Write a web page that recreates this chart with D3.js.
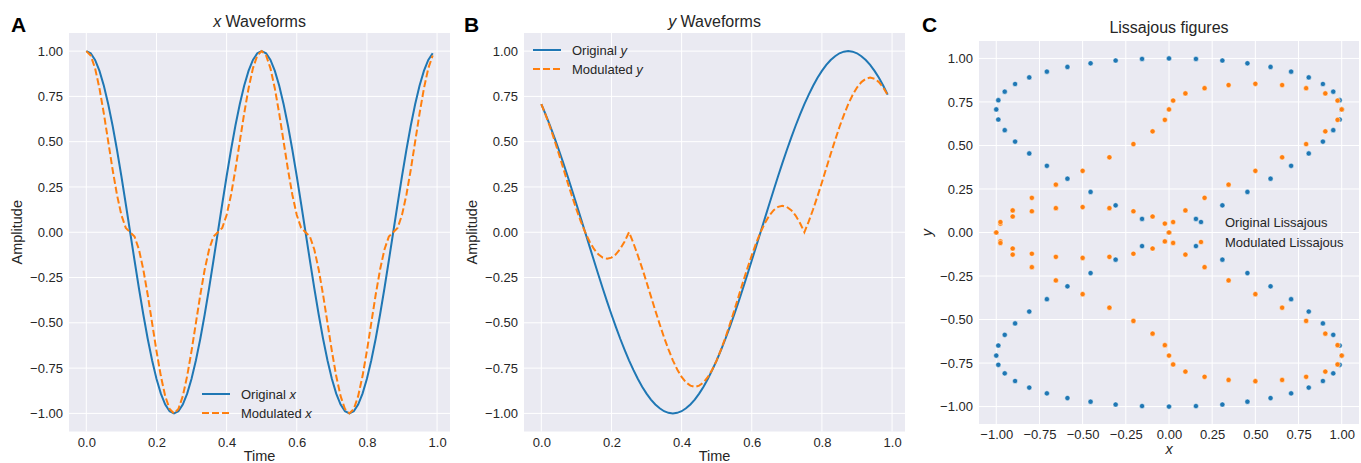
<!DOCTYPE html>
<html>
<head>
<meta charset="utf-8">
<script src="https://cdn.jsdelivr.net/npm/d3@7"></script>
<style>
  html, body { margin: 0; padding: 0; background: #fff; }
  svg { display: block; font-family: "Liberation Sans", Arial, sans-serif; }
</style>
</head>
<body>
<svg id="chart" width="1361" height="463"></svg>
<script>
// ---------------- DATA ----------------
const time = [0,0.0125,0.025,0.0375,0.05,0.0625,0.075,0.0875,0.1,0.1125,0.125,0.1375,0.15,0.1625,0.175,0.1875,0.2,0.2125,0.225,0.2375,0.25,0.2625,0.275,0.2875,0.3,0.3125,0.325,0.3375,0.35,0.3625,0.375,0.3875,0.4,0.4125,0.425,0.4375,0.45,0.4625,0.475,0.4875,0.5,0.5125,0.525,0.5375,0.55,0.5625,0.575,0.5875,0.6,0.6125,0.625,0.6375,0.65,0.6625,0.675,0.6875,0.7,0.7125,0.725,0.7375,0.75,0.7625,0.775,0.7875,0.8,0.8125,0.825,0.8375,0.85,0.8625,0.875,0.8875,0.9,0.9125,0.925,0.9375,0.95,0.9625,0.975,0.9875];

const xOriginal = [1,0.988,0.951,0.891,0.809,0.707,0.588,0.454,0.309,0.156,0,-0.156,-0.309,-0.454,-0.588,-0.707,-0.809,-0.891,-0.951,-0.988,-1,-0.988,-0.951,-0.891,-0.809,-0.707,-0.588,-0.454,-0.309,-0.156,0,0.156,0.309,0.454,0.588,0.707,0.809,0.891,0.951,0.988,
 1,0.988,0.951,0.891,0.809,0.707,0.588,0.454,0.309,0.156,0,-0.156,-0.309,-0.454,-0.588,-0.707,-0.809,-0.891,-0.951,-0.988,-1,-0.988,-0.951,-0.891,-0.809,-0.707,-0.588,-0.454,-0.309,-0.156,0,0.156,0.309,0.454,0.588,0.707,0.809,0.891,0.951,0.988];

const xModulated = [1,0.976,0.905,0.794,0.655,0.5,0.345,0.206,0.095,0.024,0,-0.024,-0.095,-0.206,-0.345,-0.5,-0.655,-0.794,-0.905,-0.976,-1,-0.976,-0.905,-0.794,-0.655,-0.5,-0.345,-0.206,-0.095,-0.024,0,0.024,0.095,0.206,0.345,0.5,0.655,0.794,0.905,0.976,
 1,0.976,0.905,0.794,0.655,0.5,0.345,0.206,0.095,0.024,0,-0.024,-0.095,-0.206,-0.345,-0.5,-0.655,-0.794,-0.905,-0.976,-1,-0.976,-0.905,-0.794,-0.655,-0.5,-0.345,-0.206,-0.095,-0.024,0,0.024,0.095,0.206,0.345,0.5,0.655,0.794,0.905,0.976];

const yOriginal = [0.707,0.649,0.588,0.522,0.454,0.383,0.309,0.233,0.156,0.078,0,-0.078,-0.156,-0.233,-0.309,-0.383,-0.454,-0.522,-0.588,-0.649,-0.707,-0.760,-0.809,-0.853,-0.891,-0.924,-0.951,-0.972,-0.988,-0.997,-1,-0.997,-0.988,-0.972,-0.951,-0.924,-0.891,-0.853,-0.809,-0.760,
 -0.707,-0.649,-0.588,-0.522,-0.454,-0.383,-0.309,-0.233,-0.156,-0.078,0,0.078,0.156,0.233,0.309,0.383,0.454,0.522,0.588,0.649,0.707,0.760,0.809,0.853,0.891,0.924,0.951,0.972,0.988,0.997,1,0.997,0.988,0.972,0.951,0.924,0.891,0.853,0.809,0.760];

const yModulated = [0.707,0.647,0.581,0.508,0.432,0.354,0.275,0.199,0.127,0.060,0,-0.051,-0.092,-0.122,-0.140,-0.146,-0.140,-0.122,-0.092,-0.051,0,-0.060,-0.127,-0.199,-0.275,-0.354,-0.432,-0.508,-0.581,-0.647,-0.707,-0.758,-0.799,-0.829,-0.847,-0.854,-0.847,-0.829,-0.799,-0.758,
 -0.707,-0.647,-0.581,-0.508,-0.432,-0.354,-0.275,-0.199,-0.127,-0.060,0,0.051,0.092,0.122,0.140,0.146,0.140,0.122,0.092,0.051,0,0.060,0.127,0.199,0.275,0.354,0.432,0.508,0.581,0.647,0.707,0.758,0.799,0.829,0.847,0.854,0.847,0.829,0.799,0.758];

const timeTicks = [0, 0.2, 0.4, 0.6, 0.8, 1.0];
const ampTicks = [-1, -0.75, -0.5, -0.25, 0, 0.25, 0.5, 0.75, 1];
const lissTicks = [-1, -0.75, -0.5, -0.25, 0, 0.25, 0.5, 0.75, 1];

// ---------------- STYLE ----------------
const BLUE = "#1f77b4", ORANGE = "#ff7f0e", BG = "#eaeaf2", TXT = "#262626";
const svg = d3.select("#chart");

function panel(cfg) {
  const g = svg.append("g");
  const x = d3.scaleLinear().domain(cfg.xDomain).range([cfg.left, cfg.right]);
  const y = d3.scaleLinear().domain(cfg.yDomain).range([cfg.bottom, cfg.top]);
  g.append("rect").attr("x", cfg.left).attr("y", cfg.top)
    .attr("width", cfg.right - cfg.left).attr("height", cfg.bottom - cfg.top).attr("fill", BG);
  // grid
  g.selectAll(".gx").data(cfg.xTicks).join("line")
    .attr("x1", d => x(d)).attr("x2", d => x(d)).attr("y1", cfg.top).attr("y2", cfg.bottom)
    .attr("stroke", "#fff").attr("stroke-width", 1);
  g.selectAll(".gy").data(cfg.yTicks).join("line")
    .attr("y1", d => y(d)).attr("y2", d => y(d)).attr("x1", cfg.left).attr("x2", cfg.right)
    .attr("stroke", "#fff").attr("stroke-width", 1);
  // axes (labels only, no spines)
  const ax = g.append("g").attr("transform", `translate(0,${cfg.bottom})`)
    .call(d3.axisBottom(x).tickValues(cfg.xTicks).tickFormat(d3.format(cfg.xFmt)).tickSize(0).tickPadding(6));
  const ay = g.append("g").attr("transform", `translate(${cfg.left},0)`)
    .call(d3.axisLeft(y).tickValues(cfg.yTicks).tickFormat(d3.format(cfg.yFmt)).tickSize(0).tickPadding(6));
  [ax, ay].forEach(a => {
    a.select(".domain").remove();
    a.selectAll("text").attr("fill", TXT).style("font-size", "13px")
      .style("font-family", '"Liberation Sans", Arial, sans-serif');
  });
  return {g, x, y};
}

function addText(g, t, x, y, opts) {
  const el = g.append("text").attr("x", x).attr("y", y).attr("fill", opts.fill || TXT)
    .attr("text-anchor", opts.anchor || "middle").style("font-size", opts.size + "px")
    .style("font-weight", opts.weight || "normal");
  if (opts.rotate) el.attr("transform", `rotate(-90,${x},${y})`);
  t.forEach(part => {
    el.append("tspan").text(part[0]).style("font-style", part[1] ? "italic" : "normal");
  });
  if (opts.dy) el.attr("dy", opts.dy);
  return el;
}

const lineDomain = [-0.049375, 1.036875];

// ---------------- PANEL A ----------------
{
  const cfg = {left: 69, right: 450, top: 33, bottom: 431.5, xDomain: lineDomain, yDomain: [-1.1, 1.1],
    xTicks: timeTicks, yTicks: ampTicks, xFmt: ".1f", yFmt: ".2f"};
  const {g, x, y} = panel(cfg);
  const idx = d3.range(time.length);
  const line = arr => d3.line().x(i => x(time[i])).y(i => y(arr[i]))(idx);
  g.append("path").attr("d", line(xOriginal)).attr("fill", "none").attr("stroke", BLUE).attr("stroke-width", 2);
  g.append("path").attr("d", line(xModulated)).attr("fill", "none").attr("stroke", ORANGE).attr("stroke-width", 2)
    .attr("stroke-dasharray", "7,3");
  addText(g, [["", false], ["x", true], [" Waveforms", false]], (cfg.left + cfg.right) / 2, 27, {size: 16});
  addText(g, [["Time", false]], (cfg.left + cfg.right) / 2, 461, {size: 14.5});
  addText(g, [["Amplitude", false]], 22, (cfg.top + cfg.bottom) / 2, {size: 14.5, rotate: true});
  addText(g, [["A", false]], 11, 32, {size: 21, weight: "bold", anchor: "start", fill: "#000"});
  // legend
  const lg = [[xOriginal, "Original ", null], [xModulated, "Modulated ", "7,3"]];
  lg.forEach((d, i) => {
    const yy = 394 + i * 19;
    g.append("line").attr("x1", 202).attr("x2", 230).attr("y1", yy).attr("y2", yy)
      .attr("stroke", i ? ORANGE : BLUE).attr("stroke-width", 2).attr("stroke-dasharray", d[2]);
    addText(g, [[d[1], false], ["x", true]], 241, yy, {size: 13, anchor: "start", dy: "0.35em"});
  });
}

// ---------------- PANEL B ----------------
{
  const cfg = {left: 524, right: 905, top: 33, bottom: 431.5, xDomain: lineDomain, yDomain: [-1.1, 1.1],
    xTicks: timeTicks, yTicks: ampTicks, xFmt: ".1f", yFmt: ".2f"};
  const {g, x, y} = panel(cfg);
  const idx = d3.range(time.length);
  const line = arr => d3.line().x(i => x(time[i])).y(i => y(arr[i]))(idx);
  g.append("path").attr("d", line(yOriginal)).attr("fill", "none").attr("stroke", BLUE).attr("stroke-width", 2);
  g.append("path").attr("d", line(yModulated)).attr("fill", "none").attr("stroke", ORANGE).attr("stroke-width", 2)
    .attr("stroke-dasharray", "7,3");
  addText(g, [["y", true], [" Waveforms", false]], (cfg.left + cfg.right) / 2, 27, {size: 16});
  addText(g, [["Time", false]], (cfg.left + cfg.right) / 2, 461, {size: 14.5});
  addText(g, [["Amplitude", false]], 477, (cfg.top + cfg.bottom) / 2, {size: 14.5, rotate: true});
  addText(g, [["B", false]], 464, 32, {size: 21, weight: "bold", anchor: "start", fill: "#000"});
  const lg = [["Original ", null], ["Modulated ", "7,3"]];
  lg.forEach((d, i) => {
    const yy = 50 + i * 19;
    g.append("line").attr("x1", 533).attr("x2", 561).attr("y1", yy).attr("y2", yy)
      .attr("stroke", i ? ORANGE : BLUE).attr("stroke-width", 2).attr("stroke-dasharray", d[1]);
    addText(g, [[d[0], false], ["y", true]], 572, yy, {size: 13, anchor: "start", dy: "0.35em"});
  });
}

// ---------------- PANEL C ----------------
{
  const cfg = {left: 979, right: 1359, top: 41, bottom: 424, xDomain: [-1.1, 1.1], yDomain: [-1.1, 1.1],
    xTicks: lissTicks, yTicks: lissTicks, xFmt: ".2f", yFmt: ".2f"};
  const {g, x, y} = panel(cfg);
  const idx = d3.range(time.length);
  g.selectAll(".po").data(idx).join("circle")
    .attr("cx", i => x(xOriginal[i])).attr("cy", i => y(yOriginal[i])).attr("r", 2.6)
    .attr("fill", BLUE).attr("stroke", "#fff").attr("stroke-width", 0.5);
  g.selectAll(".pm").data(idx).join("circle")
    .attr("cx", i => x(xModulated[i])).attr("cy", i => y(yModulated[i])).attr("r", 2.6)
    .attr("fill", ORANGE).attr("stroke", "#fff").attr("stroke-width", 0.5);
  addText(g, [["Lissajous figures", false]], (cfg.left + cfg.right) / 2, 33, {size: 16});
  addText(g, [["x", true]], (cfg.left + cfg.right) / 2, 454, {size: 14.5});
  addText(g, [["y", true]], 932, (cfg.top + cfg.bottom) / 2, {size: 14.5, rotate: true});
  addText(g, [["C", false]], 922, 32, {size: 21, weight: "bold", anchor: "start", fill: "#000"});
  const lg = [["Original Lissajous", BLUE], ["Modulated Lissajous", ORANGE]];
  lg.forEach((d, i) => {
    const yy = 222 + i * 20;
    g.append("circle").attr("cx", 1201).attr("cy", yy).attr("r", 2.6).attr("fill", d[1])
      .attr("stroke", "#fff").attr("stroke-width", 0.5);
    addText(g, [[d[0], false]], 1225, yy, {size: 13, anchor: "start", dy: "0.35em"});
  });
}
</script>
</body>
</html>
